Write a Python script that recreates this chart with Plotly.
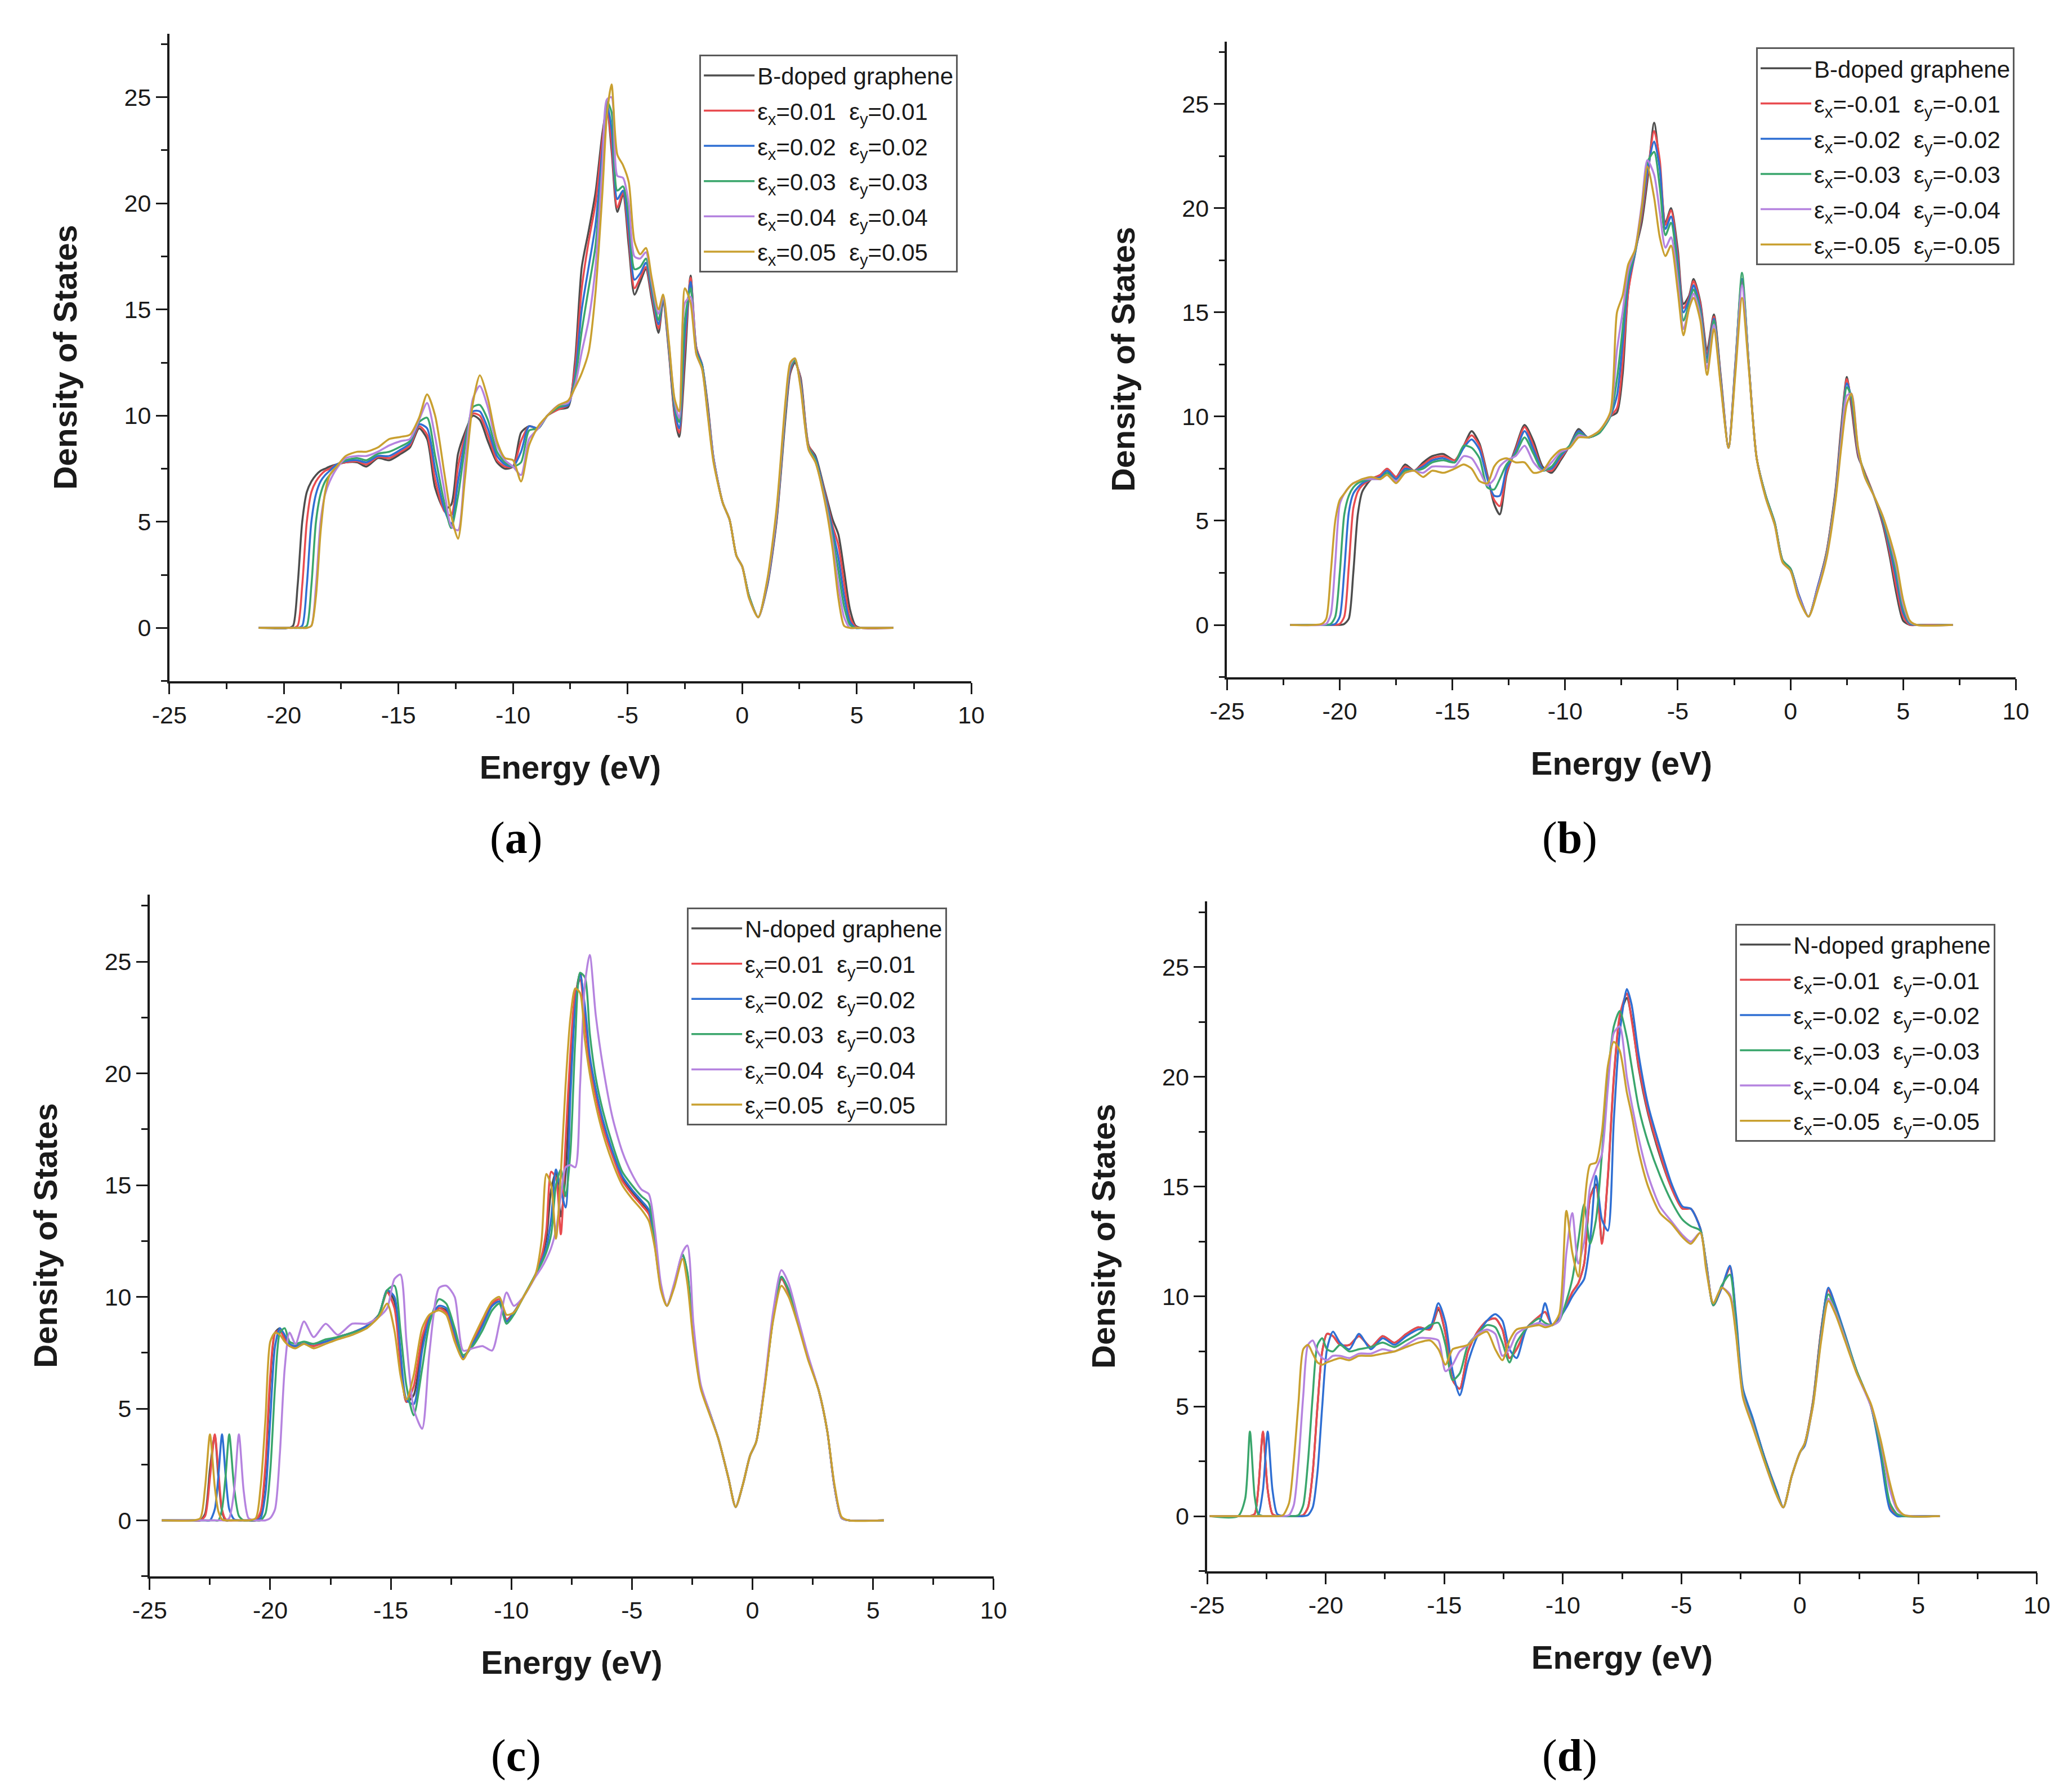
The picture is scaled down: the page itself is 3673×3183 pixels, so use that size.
import plotly.graph_objects as go

# ---------------- data ----------------
# (a) B-doped graphene, tensile strain
e_a = [-21.1, -19.8, -19.6, -19.4, -19.2, -19.0, -18.8, -18.6, -18.4, -18.2, -18.0, -17.7, -17.3, -16.8, -16.4,
       -15.9, -15.4, -14.9, -14.5, -14.1, -13.75, -13.4, -13.0, -12.7, -12.4, -12.1, -11.75, -11.45, -11.1, -10.7,
       -10.35, -10.0, -9.65, -9.3, -8.9, -8.5, -8.0, -7.6, -7.3, -7.0, -6.7, -6.4, -6.1, -5.9, -5.7, -5.45, -5.2,
       -4.95, -4.7, -4.45, -4.2, -3.95, -3.65, -3.45, -3.2, -2.95, -2.75, -2.5, -2.25, -2.0, -1.75, -1.5, -1.25,
       -0.85, -0.55, -0.25, 0.0, 0.3, 0.7, 1.1, 1.5, 1.9, 2.1, 2.3, 2.55, 2.9, 3.2, 3.6, 3.95, 4.2, 4.45, 4.7,
       4.95, 5.2, 6.6]
a_pristine = [0, 0, 0.1, 2.0, 5.0, 6.4, 6.9, 7.2, 7.4, 7.5, 7.6, 7.7, 7.8, 7.8, 7.6, 8.0, 7.9, 8.2, 8.5, 9.4,
              8.9, 6.6, 5.6, 5.8, 8.2, 9.2, 10.0, 9.8, 8.8, 7.8, 7.5, 7.6, 9.2, 9.5, 9.4, 10.0, 10.3, 10.4, 12.5,
              17.0, 18.7, 20.5, 23.3, 24.5, 22.5, 19.6, 20.4, 18.0, 15.7, 16.3, 16.9, 15.5, 13.9, 15.4, 13.0, 10.0,
              9.0, 12.5, 16.6, 13.2, 12.4, 10.5, 8.0, 5.9, 5.1, 3.4, 2.9, 1.5, 0.5, 2.0, 5.0, 10.0, 12.0, 12.5,
              11.8, 8.6, 8.1, 6.5, 5.1, 4.4, 2.7, 0.9, 0.1, 0, 0]
a_001 = [0, 0, 0, 0.1, 2.0, 5.0, 6.4, 6.9, 7.2, 7.4, 7.5, 7.7, 7.8, 7.85, 7.7, 8.05, 8.0, 8.3, 8.6, 9.5, 9.1,
         7.0, 5.5, 5.3, 7.6, 9.0, 10.1, 10.0, 9.1, 7.9, 7.6, 7.6, 8.8, 9.5, 9.4, 10.0, 10.3, 10.5, 12.2, 16.0,
         18.2, 20.0, 23.0, 24.6, 22.8, 19.8, 20.5, 18.4, 16.0, 16.5, 17.0, 15.7, 14.1, 15.5, 13.1, 10.1, 9.2,
         13.2, 16.5, 13.2, 12.4, 10.4, 8.0, 5.9, 5.1, 3.4, 2.9, 1.5, 0.5, 2.1, 5.1, 10.2, 12.1, 12.6, 11.7, 8.6,
         8.0, 6.4, 4.8, 3.9, 2.1, 0.5, 0.05, 0, 0]
a_002 = [0, 0, 0, 0, 0.1, 2.0, 5.0, 6.3, 6.9, 7.2, 7.4, 7.7, 7.85, 7.9, 7.8, 8.1, 8.1, 8.4, 8.7, 9.6, 9.4, 7.5,
         5.6, 4.9, 6.9, 8.8, 10.2, 10.2, 9.4, 8.1, 7.7, 7.6, 8.3, 9.5, 9.4, 10.0, 10.4, 10.5, 11.8, 15.0, 17.0,
         19.0, 22.5, 24.7, 23.5, 20.2, 20.6, 18.8, 16.4, 16.7, 17.2, 15.9, 14.3, 15.5, 13.2, 10.3, 9.4, 13.8,
         16.3, 13.1, 12.4, 10.3, 8.0, 5.9, 5.1, 3.4, 2.9, 1.5, 0.5, 2.1, 5.2, 10.3, 12.2, 12.6, 11.6, 8.5, 8.0,
         6.3, 4.6, 3.3, 1.5, 0.3, 0, 0, 0]
a_003 = [0, 0, 0, 0, 0, 0.1, 2.0, 5.0, 6.3, 6.9, 7.2, 7.6, 7.9, 8.0, 7.9, 8.2, 8.3, 8.55, 8.8, 9.7, 9.9, 8.1,
         5.9, 4.7, 6.2, 8.5, 10.4, 10.5, 9.8, 8.3, 7.8, 7.6, 7.8, 9.3, 9.4, 10.0, 10.4, 10.6, 11.6, 14.0, 16.0,
         18.0, 22.0, 24.8, 24.3, 20.6, 20.8, 19.4, 16.9, 17.0, 17.4, 16.1, 14.5, 15.6, 13.3, 10.5, 9.7, 14.5,
         16.0, 13.0, 12.3, 10.2, 7.9, 5.9, 5.1, 3.4, 2.9, 1.5, 0.5, 2.2, 5.3, 10.4, 12.3, 12.6, 11.5, 8.5, 7.9,
         6.2, 4.3, 2.7, 1.0, 0.15, 0, 0, 0]
a_004 = [0, 0, 0, 0, 0, 0, 0.1, 2.0, 5.0, 6.3, 6.9, 7.5, 8.0, 8.1, 8.1, 8.3, 8.6, 8.8, 8.9, 9.8, 10.6, 9.0,
         6.5, 4.8, 4.6, 7.7, 10.8, 11.4, 10.4, 8.6, 7.9, 7.6, 7.2, 8.9, 9.4, 10.0, 10.5, 10.6, 11.4, 13.0, 14.5,
         17.0, 21.8, 24.9, 25.0, 21.3, 21.2, 20.0, 17.5, 17.4, 17.7, 16.3, 14.8, 15.6, 13.4, 10.7, 9.9, 15.3,
         15.6, 12.9, 12.2, 10.1, 7.9, 5.9, 5.1, 3.4, 2.9, 1.4, 0.5, 2.2, 5.4, 10.6, 12.4, 12.7, 11.4, 8.4, 7.8,
         6.1, 4.0, 2.0, 0.5, 0, 0, 0, 0]
a_005 = [0, 0, 0, 0, 0, 0, 0.1, 1.5, 4.5, 6.4, 7.2, 7.6, 8.1, 8.3, 8.3, 8.5, 8.9, 9.0, 9.1, 9.9, 11.0, 10.0,
         7.3, 5.3, 4.2, 7.0, 10.6, 11.9, 10.8, 8.8, 8.0, 7.9, 6.9, 8.6, 9.5, 10.0, 10.5, 10.7, 11.3, 12.0, 13.0,
         15.8, 20.5, 24.2, 25.6, 22.3, 21.8, 21.0, 18.2, 17.6, 17.9, 16.5, 15.0, 15.7, 13.5, 10.8, 10.2, 16.0,
         15.3, 12.9, 12.2, 10.0, 7.8, 5.9, 5.1, 3.4, 2.9, 1.4, 0.5, 2.3, 5.6, 10.8, 12.5, 12.7, 11.3, 8.4, 7.8,
         6.0, 3.7, 1.4, 0.1, 0, 0, 0, 0]

# (b) B-doped graphene, compressive strain
e_b = [-22.2, -20.8, -20.6, -20.4, -20.2, -20.0, -19.8, -19.6, -19.4, -19.2, -19.0, -18.6, -18.2, -17.9, -17.5,
       -17.1, -16.7, -16.3, -15.9, -15.4, -14.9, -14.5, -14.15, -13.8, -13.45, -13.15, -12.9, -12.6, -12.2,
       -11.8, -11.4, -11.0, -10.6, -10.2, -9.8, -9.4, -9.0, -8.5, -8.0, -7.7, -7.45, -7.2, -6.9, -6.6, -6.35,
       -6.05, -5.8, -5.55, -5.3, -5.0, -4.75, -4.5, -4.3, -4.0, -3.7, -3.4, -3.1, -2.75, -2.45, -2.15, -1.85,
       -1.5, -1.1, -0.7, -0.35, 0.0, 0.35, 0.8, 1.2, 1.6, 2.0, 2.25, 2.5, 2.7, 3.0, 3.3, 3.7, 4.1, 4.4, 4.7,
       5.0, 5.3, 5.6, 7.2]
b_pristine = [0, 0, 0, 0, 0, 0, 0.05, 0.3, 2.5, 5.3, 6.4, 7.0, 7.2, 7.5, 7.1, 7.7, 7.4, 7.8, 8.1, 8.2, 7.9,
              8.6, 9.3, 8.7, 7.2, 5.8, 5.3, 7.2, 8.5, 9.6, 8.8, 7.6, 7.3, 7.9, 8.6, 9.4, 9.0, 9.2, 10.0, 10.2,
              12.0, 16.0, 17.9, 19.3, 21.3, 24.1, 22.0, 19.3, 20.0, 18.0, 15.4, 15.8, 16.6, 15.5, 13.2, 14.9,
              12.0, 8.5, 12.5, 16.6, 12.5, 8.0, 6.2, 4.9, 3.1, 2.7, 1.5, 0.4, 1.8, 3.5, 6.5, 9.5, 11.9, 10.5,
              8.1, 7.3, 6.2, 4.8, 3.3, 1.5, 0.2, 0, 0, 0]
b_001 = [0, 0, 0, 0, 0, 0.05, 0.4, 2.8, 5.6, 6.4, 6.7, 7.0, 7.2, 7.5, 7.1, 7.6, 7.4, 7.7, 8.0, 8.1, 7.9, 8.6,
         9.1, 8.6, 7.1, 6.0, 5.7, 7.3, 8.4, 9.5, 8.6, 7.5, 7.4, 8.0, 8.6, 9.3, 9.0, 9.2, 10.0, 10.4, 12.6, 16.0,
         17.8, 19.6, 21.6, 23.7, 22.3, 19.2, 19.9, 17.7, 15.2, 15.7, 16.5, 15.4, 13.0, 14.8, 11.9, 8.5, 12.4,
         16.5, 12.5, 8.0, 6.2, 4.9, 3.1, 2.7, 1.5, 0.4, 1.8, 3.5, 6.4, 9.3, 11.8, 10.7, 8.2, 7.3, 6.2, 4.9, 3.5,
         1.8, 0.4, 0, 0, 0]
b_002 = [0, 0, 0, 0, 0.05, 0.4, 2.6, 5.4, 6.3, 6.6, 6.8, 7.0, 7.1, 7.4, 7.0, 7.5, 7.4, 7.6, 7.9, 8.0, 7.8,
         8.5, 8.9, 8.4, 7.0, 6.2, 6.2, 7.5, 8.3, 9.3, 8.4, 7.5, 7.5, 8.1, 8.6, 9.3, 9.0, 9.2, 10.0, 11.0, 13.5,
         16.4, 17.8, 19.8, 21.8, 23.2, 21.9, 19.0, 19.6, 17.4, 15.0, 15.6, 16.3, 15.2, 12.8, 14.7, 11.8, 8.5,
         12.4, 16.6, 12.5, 8.0, 6.2, 4.9, 3.1, 2.7, 1.5, 0.4, 1.8, 3.4, 6.3, 9.1, 11.6, 10.9, 8.3, 7.2, 6.2,
         5.0, 3.7, 2.2, 0.6, 0.05, 0, 0]
b_003 = [0, 0, 0, 0.05, 0.4, 2.5, 5.3, 6.2, 6.6, 6.8, 6.9, 7.0, 7.0, 7.3, 6.9, 7.4, 7.4, 7.5, 7.8, 7.9, 7.8,
         8.6, 8.5, 8.0, 6.6, 6.5, 7.0, 7.7, 8.2, 9.0, 8.2, 7.4, 7.6, 8.2, 8.6, 9.2, 9.0, 9.2, 10.0, 11.8, 14.2,
         16.7, 17.9, 20.0, 22.2, 22.7, 21.0, 18.7, 19.3, 17.0, 14.6, 15.4, 16.1, 15.0, 12.6, 14.6, 11.7, 8.5,
         12.3, 16.9, 12.5, 8.0, 6.2, 4.9, 3.1, 2.7, 1.4, 0.4, 1.7, 3.4, 6.2, 9.0, 11.4, 11.0, 8.4, 7.2, 6.2,
         5.1, 3.9, 2.5, 0.8, 0.1, 0, 0]
b_004 = [0, 0, 0.05, 0.5, 3.0, 5.8, 6.3, 6.6, 6.8, 6.9, 7.0, 7.0, 7.0, 7.2, 6.9, 7.3, 7.4, 7.3, 7.6, 7.6,
         7.6, 8.1, 8.0, 7.4, 6.7, 7.0, 7.6, 7.9, 8.1, 8.6, 7.8, 7.4, 7.8, 8.3, 8.5, 9.1, 9.0, 9.3, 10.1, 13.2,
         15.0, 17.0, 18.0, 20.2, 22.3, 21.6, 19.8, 18.1, 18.6, 16.5, 14.2, 15.2, 15.9, 14.8, 12.3, 14.4, 11.6,
         8.5, 12.2, 16.3, 12.4, 8.0, 6.1, 4.8, 3.0, 2.6, 1.4, 0.4, 1.7, 3.3, 6.1, 8.8, 11.0, 11.1, 8.4, 7.1,
         6.2, 5.2, 4.1, 2.8, 1.0, 0.15, 0, 0]
b_005 = [0, 0.05, 0.3, 2.5, 5.0, 6.0, 6.3, 6.6, 6.8, 6.9, 7.0, 7.1, 7.0, 7.2, 6.8, 7.3, 7.4, 7.1, 7.4, 7.3,
         7.5, 7.7, 7.5, 6.9, 6.8, 7.6, 7.9, 8.0, 7.8, 7.8, 7.3, 7.4, 8.0, 8.4, 8.5, 9.0, 9.0, 9.3, 10.2, 15.0,
         15.8, 17.3, 18.0, 20.0, 22.0, 20.5, 18.6, 17.7, 18.2, 16.0, 13.9, 15.2, 15.7, 14.6, 12.0, 14.2, 11.5,
         8.5, 12.0, 15.7, 12.3, 8.0, 6.1, 4.8, 3.0, 2.6, 1.3, 0.4, 1.6, 3.2, 6.0, 8.5, 10.6, 11.1, 8.5, 7.1,
         6.2, 5.2, 4.2, 3.0, 1.2, 0.2, 0, 0]

# (c) N-doped graphene, tensile strain
e_c = [-24.5, -23.2, -22.9, -22.7, -22.5, -22.3, -22.15, -22.0, -21.85, -21.7, -21.5, -21.3, -21.1, -20.9,
       -20.6, -20.4, -20.2, -20.0, -19.8, -19.6, -19.4, -19.2, -18.95, -18.6, -18.2, -17.7, -17.2, -16.6,
       -16.0, -15.5, -15.15, -14.85, -14.6, -14.35, -14.05, -13.7, -13.4, -13.0, -12.7, -12.35, -12.0, -11.6,
       -11.2, -10.8, -10.5, -10.2, -9.9, -9.5, -9.0, -8.75, -8.55, -8.35, -8.15, -7.95, -7.75, -7.55, -7.35,
       -7.15, -6.95, -6.75, -6.5, -6.2, -5.8, -5.4, -5.0, -4.6, -4.3, -4.05, -3.8, -3.55, -3.25, -2.9, -2.7,
       -2.45, -2.15, -1.8, -1.4, -1.0, -0.7, -0.4, -0.1, 0.15, 0.5, 0.85, 1.2, 1.5, 1.9, 2.3, 2.75, 3.1, 3.4,
       3.7, 4.0, 5.45]
c_pristine = [0, 0, 0, 0.3, 2.3, 3.8, 1.9, 0.4, 0, 0, 0, 0, 0, 0, 0, 0.3, 2.2, 6.2, 8.4, 8.6, 8.2, 7.8, 7.8,
              7.9, 7.8, 8.0, 8.2, 8.4, 8.7, 9.2, 10.3, 9.8, 7.3, 5.3, 5.6, 7.9, 9.0, 9.5, 9.4, 8.3, 7.3, 7.9,
              8.8, 9.6, 9.8, 8.9, 9.3, 10.0, 11.0, 11.7, 12.6, 14.8, 15.6, 13.6, 15.5, 20.0, 23.3, 24.5, 22.7,
              20.6, 19.2, 17.8, 16.4, 15.3, 14.7, 14.2, 13.8, 12.3, 10.4, 9.6, 10.5, 11.9, 11.0, 8.2, 6.0, 4.9,
              3.6, 1.9, 0.6, 1.6, 2.9, 3.5, 6.0, 9.0, 10.8, 10.2, 8.8, 7.3, 5.8, 4.0, 1.5, 0.1, 0, 0]
c_001 = [0, 0, 0, 0.2, 1.9, 3.85, 2.2, 0.5, 0.05, 0, 0, 0, 0, 0, 0, 0.4, 2.5, 6.5, 8.4, 8.5, 8.1, 7.8, 7.8,
         7.9, 7.8, 8.0, 8.2, 8.4, 8.7, 9.2, 10.2, 9.5, 7.0, 5.3, 6.0, 8.2, 9.1, 9.5, 9.3, 8.2, 7.3, 8.0, 8.9,
         9.7, 9.9, 9.0, 9.3, 10.0, 11.0, 11.8, 13.0, 15.6, 15.3, 12.8, 17.0, 21.0, 23.6, 24.2, 22.3, 20.4,
         19.0, 17.6, 16.3, 15.2, 14.6, 14.1, 13.7, 12.3, 10.4, 9.6, 10.5, 11.9, 11.0, 8.2, 6.0, 4.9, 3.6, 1.9,
         0.6, 1.6, 2.9, 3.5, 6.0, 9.0, 10.8, 10.2, 8.8, 7.3, 5.8, 4.0, 1.5, 0.1, 0, 0]
c_002 = [0, 0, 0, 0, 0, 0.5, 2.0, 3.85, 2.0, 0.5, 0.05, 0, 0, 0, 0, 0.1, 1.2, 4.5, 7.8, 8.6, 8.3, 7.9, 7.8,
         7.9, 7.9, 8.0, 8.2, 8.4, 8.7, 9.2, 10.3, 10.0, 7.6, 5.4, 5.2, 7.6, 9.0, 9.6, 9.5, 8.4, 7.3, 7.9, 8.7,
         9.6, 9.8, 8.9, 9.3, 10.0, 11.0, 11.6, 12.2, 13.5, 15.7, 14.8, 14.0, 19.0, 23.0, 24.4, 23.0, 20.8,
         19.3, 17.9, 16.5, 15.4, 14.8, 14.3, 13.9, 12.4, 10.4, 9.6, 10.5, 11.9, 11.0, 8.2, 6.0, 4.9, 3.6, 1.9,
         0.6, 1.6, 2.9, 3.5, 6.0, 9.0, 10.9, 10.3, 8.8, 7.3, 5.8, 4.0, 1.5, 0.1, 0, 0]
c_003 = [0, 0, 0, 0, 0, 0, 0, 0.5, 2.0, 3.85, 1.5, 0.2, 0, 0, 0, 0, 0.3, 2.2, 6.0, 8.4, 8.6, 8.0, 7.9, 8.0,
         7.9, 8.1, 8.2, 8.4, 8.6, 9.2, 10.3, 10.5, 8.5, 6.0, 4.7, 6.8, 8.8, 9.9, 9.7, 8.6, 7.4, 7.8, 8.5, 9.4,
         9.7, 8.8, 9.2, 10.0, 11.0, 11.5, 12.0, 12.8, 15.0, 15.7, 14.5, 16.5, 21.5, 24.5, 24.3, 21.8, 19.8,
         18.3, 16.8, 15.6, 15.0, 14.5, 14.2, 12.5, 10.4, 9.6, 10.5, 11.9, 11.1, 8.3, 6.0, 4.9, 3.6, 1.9, 0.6,
         1.6, 2.9, 3.5, 6.0, 9.0, 10.9, 10.3, 8.8, 7.3, 5.8, 4.0, 1.5, 0.1, 0, 0]
c_004 = [0, 0, 0, 0, 0, 0, 0, 0, 0, 0.1, 1.3, 3.85, 1.3, 0.1, 0, 0, 0, 0.1, 0.5, 3.0, 6.8, 8.4, 7.9, 8.9,
         8.2, 8.8, 8.3, 8.8, 8.8, 9.1, 9.5, 10.8, 11.0, 8.0, 5.0, 4.1, 7.5, 10.4, 10.5, 10.0, 7.6, 7.7, 7.8,
         7.6, 8.8, 10.2, 9.6, 10.0, 10.9, 11.3, 11.7, 12.2, 13.0, 14.5, 15.8, 15.9, 15.8, 19.5, 24.0, 25.3,
         22.6, 20.3, 18.0, 16.5, 15.5, 14.8, 14.6, 13.0, 10.6, 9.6, 10.6, 12.0, 12.3, 8.8, 6.1, 4.9, 3.6, 1.9,
         0.6, 1.6, 2.9, 3.5, 6.1, 9.3, 11.2, 10.6, 9.0, 7.4, 5.8, 4.0, 1.5, 0.1, 0, 0]
c_005 = [0, 0, 0.1, 1.5, 3.85, 1.5, 0.4, 0.05, 0, 0, 0, 0, 0, 0, 0.1, 1.5, 4.5, 8.0, 8.4, 8.3, 8.0, 7.8, 7.7,
         7.9, 7.7, 7.9, 8.1, 8.3, 8.6, 9.1, 9.7, 8.5, 6.5, 5.4, 6.5, 8.6, 9.2, 9.4, 9.2, 8.0, 7.2, 8.1, 9.0,
         9.8, 10.0, 9.2, 9.3, 10.0, 11.0, 12.5, 15.5, 15.0, 12.6, 15.5, 19.5, 22.5, 23.8, 23.6, 21.5, 20.0,
         18.6, 17.3, 16.0, 15.0, 14.4, 13.9, 13.4, 12.2, 10.3, 9.6, 10.4, 11.7, 10.6, 8.0, 5.9, 4.8, 3.6, 1.9,
         0.6, 1.6, 2.9, 3.5, 5.9, 8.9, 10.5, 10.0, 8.7, 7.2, 5.8, 4.0, 1.6, 0.15, 0, 0]

# (d) N-doped graphene, compressive strain
e_d = [-24.9, -23.7, -23.4, -23.2, -23.0, -22.85, -22.65, -22.45, -22.25, -22.05, -21.8, -21.55, -21.35,
       -21.15, -20.95, -20.75, -20.55, -20.35, -20.15, -19.95, -19.7, -19.4, -19.0, -18.6, -18.1, -17.6, -17.1,
       -16.6, -16.1, -15.6, -15.25, -14.95, -14.65, -14.35, -14.0, -13.6, -13.2, -12.85, -12.55, -12.25,
       -11.95, -11.5, -11.0, -10.75, -10.45, -10.15, -9.85, -9.6, -9.35, -9.1, -8.85, -8.6, -8.35, -8.1, -7.85,
       -7.6, -7.3, -7.1, -6.8, -6.4, -5.9, -5.4, -4.95, -4.6, -4.2, -3.95, -3.65, -3.3, -2.95, -2.7, -2.4,
       -2.0, -1.5, -1.0, -0.7, -0.35, 0.0, 0.2, 0.55, 0.9, 1.2, 1.5, 1.9, 2.4, 3.0, 3.4, 3.8, 4.1, 4.4, 5.9]
d_pristine = [0, 0, 0, 0, 0.1, 1.2, 3.8, 1.2, 0.1, 0, 0, 0, 0, 0, 0.05, 0.4, 2.0, 5.0, 7.5, 8.3, 8.2, 7.8,
              7.8, 8.2, 7.7, 8.2, 7.9, 8.3, 8.6, 8.5, 9.4, 8.3, 6.2, 5.8, 7.5, 8.4, 8.9, 9.0, 8.5, 7.2, 7.6,
              8.6, 9.1, 9.3, 8.7, 9.0, 9.6, 10.2, 10.6, 11.5, 14.5, 15.1, 12.5, 15.4, 19.9, 22.7, 23.6, 22.7,
              20.4, 18.3, 16.4, 14.9, 14.0, 14.0, 13.1, 11.5, 9.6, 10.4, 11.3, 9.0, 5.6, 4.4, 2.7, 1.2, 0.4, 1.8,
              2.9, 3.3, 5.2, 8.5, 10.3, 9.5, 8.2, 6.6, 5.0, 3.0, 0.5, 0.05, 0, 0]
d_001 = [0, 0, 0, 0, 0.1, 1.2, 3.85, 1.2, 0.1, 0, 0, 0, 0, 0, 0.05, 0.4, 2.0, 5.0, 7.5, 8.3, 8.2, 7.8, 7.8,
         8.2, 7.7, 8.2, 7.9, 8.3, 8.6, 8.5, 9.5, 8.3, 6.2, 5.8, 7.5, 8.4, 8.9, 9.0, 8.5, 7.2, 7.6, 8.6, 9.1,
         9.3, 8.7, 9.0, 9.6, 10.2, 10.6, 11.5, 14.5, 15.0, 12.4, 15.5, 20.0, 22.8, 23.8, 22.6, 20.5, 18.4,
         16.5, 14.9, 14.0, 14.0, 13.1, 11.5, 9.6, 10.4, 11.3, 9.0, 5.6, 4.4, 2.7, 1.2, 0.4, 1.8, 2.9, 3.3, 5.2,
         8.5, 10.3, 9.5, 8.2, 6.6, 5.0, 3.0, 0.5, 0.05, 0, 0]
d_002 = [0, 0, 0, 0, 0, 0.05, 1.2, 3.85, 1.2, 0.1, 0, 0, 0, 0, 0, 0.05, 0.4, 2.0, 5.0, 7.6, 8.4, 7.9, 7.6,
         8.3, 7.6, 8.1, 7.8, 8.2, 8.5, 8.6, 9.7, 8.8, 6.6, 5.5, 7.0, 8.2, 8.9, 9.2, 8.9, 7.6, 7.2, 8.6, 8.8,
         9.7, 8.7, 9.0, 9.5, 10.0, 10.4, 10.8, 12.5, 15.5, 13.5, 13.0, 18.0, 22.0, 24.0, 23.3, 21.0, 18.7,
         16.8, 15.1, 14.1, 14.0, 13.1, 11.5, 9.6, 10.4, 11.4, 9.2, 5.8, 4.5, 2.7, 1.2, 0.4, 1.8, 2.9, 3.2, 5.1,
         8.4, 10.4, 9.6, 8.3, 6.6, 5.0, 2.8, 0.3, 0, 0, 0]
d_003 = [0, 0, 0.8, 3.85, 0.9, 0.1, 0, 0, 0, 0, 0, 0, 0, 0.05, 0.5, 2.5, 5.5, 7.8, 8.1, 7.6, 7.5, 7.8, 7.5,
         7.6, 7.7, 7.9, 7.7, 8.0, 8.3, 8.7, 8.8, 7.8, 6.2, 6.5, 7.8, 8.3, 8.7, 8.6, 7.9, 7.0, 7.9, 8.6, 9.0,
         8.8, 8.7, 8.9, 9.8, 10.8, 12.5, 14.2, 12.4, 13.5, 16.5, 20.0, 22.3, 23.0, 21.8, 20.5, 18.6, 17.0,
         15.5, 14.3, 13.5, 13.2, 13.0, 11.4, 9.6, 10.5, 11.0, 8.8, 5.6, 4.3, 2.6, 1.1, 0.4, 1.8, 2.9, 3.3, 5.1,
         8.3, 10.1, 9.4, 8.2, 6.6, 5.0, 3.1, 0.6, 0.1, 0, 0]
d_004 = [0, 0, 0, 0, 0, 0, 0, 0, 0, 0, 0, 0.05, 0.5, 2.5, 5.5, 7.8, 8.0, 7.5, 7.2, 7.1, 7.3, 7.3, 7.2, 7.4,
         7.4, 7.6, 7.5, 7.8, 8.1, 8.1, 8.0, 6.6, 6.9, 7.5, 7.8, 8.3, 8.5, 8.3, 7.3, 7.6, 8.3, 8.6, 8.8, 8.7,
         8.7, 8.9, 12.0, 13.8, 11.5, 12.5, 15.0, 15.8, 16.5, 19.5, 22.0, 22.3, 20.0, 18.8, 17.2, 15.5, 14.1,
         13.4, 12.8, 12.5, 12.9, 11.3, 9.7, 10.4, 10.1, 8.4, 5.5, 4.2, 2.5, 1.0, 0.4, 1.8, 2.9, 3.3, 5.0, 8.1,
         9.9, 9.3, 8.1, 6.5, 5.0, 3.4, 1.2, 0.3, 0.05, 0]
d_005 = [0, 0, 0, 0, 0, 0, 0, 0, 0, 0, 0.05, 0.6, 2.5, 5.2, 7.6, 7.8, 7.4, 7.0, 6.9, 7.0, 7.1, 7.2, 7.1, 7.3,
         7.3, 7.4, 7.5, 7.7, 7.9, 8.0, 7.6, 6.9, 7.6, 7.7, 7.8, 8.2, 8.4, 7.6, 7.1, 8.0, 8.5, 8.6, 8.7, 8.6,
         8.7, 9.2, 13.9, 12.0, 10.9, 14.0, 16.0, 16.1, 17.5, 20.5, 21.6, 21.2, 19.3, 18.3, 16.6, 15.0, 13.8,
         13.3, 12.7, 12.4, 12.9, 11.2, 9.7, 10.4, 10.0, 8.3, 5.4, 4.1, 2.5, 1.0, 0.4, 1.8, 2.9, 3.3, 5.0, 8.0,
         9.8, 9.2, 8.0, 6.5, 5.1, 3.5, 1.5, 0.4, 0.05, 0]

tensile_labels = ["0.01", "0.02", "0.03", "0.04", "0.05"]
compressive_labels = ["-0.01", "-0.02", "-0.03", "-0.04", "-0.05"]
x_ticks = [-25, -20, -15, -10, -5, 0, 5, 10]
y_ticks = [0, 5, 10, 15, 20, 25]

# ---------------- styling ----------------
colors = ["#4d4d4d", "#e94b4f", "#2f6fd3", "#3aa66c", "#b583df", "#c9a030"]
FONT = "Arial, Liberation Sans, sans-serif"
INK = "#1a1a1a"

panels = [
    # grid, series, doped name, strain labels, axis suffix, legend id, domain x, domain y, legend x, legend y
    (e_a, [a_pristine, a_001, a_002, a_003, a_004, a_005], "B-doped graphene", tensile_labels,
     "", "legend", [0.0797, 0.4675], [0.6225, 0.9838], 0.336, 0.972),
    (e_b, [b_pristine, b_001, b_002, b_003, b_004, b_005], "B-doped graphene", compressive_labels,
     "2", "legend2", [0.5912, 0.9726], [0.6247, 0.9794], 0.847, 0.976),
    (e_c, [c_pristine, c_001, c_002, c_003, c_004, c_005], "N-doped graphene", tensile_labels,
     "3", "legend3", [0.0702, 0.4783], [0.1229, 0.5033], 0.330, 0.496),
    (e_d, [d_pristine, d_001, d_002, d_003, d_004, d_005], "N-doped graphene", compressive_labels,
     "4", "legend4", [0.5816, 0.9828], [0.1258, 0.4996], 0.837, 0.487),
]

fig = go.Figure()
layout = {}

for grid, series, doped, strains, sfx, leg, dx, dy, lx, ly in panels:
    names = [doped] + ["ε<sub>x</sub>=%s\u00a0\u00a0ε<sub>y</sub>=%s" % (s, s) for s in strains]
    for k, vals in enumerate(series):
        fig.add_trace(go.Scatter(
            x=grid, y=vals, mode="lines", name=names[k],
            line=dict(color=colors[k], width=3.5, shape="spline", smoothing=0.7),
            xaxis="x" + sfx, yaxis="y" + sfx, legend=leg, legendgroup=leg + str(k),
        ))

    axis_common = dict(
        showline=True, linecolor=INK, linewidth=3.5, mirror=False,
        showgrid=False, zeroline=False, automargin=False,
        ticks="outside", ticklen=20, tickwidth=3, tickcolor=INK,
        tickfont=dict(family=FONT, size=43, color=INK),
    )
    layout["xaxis" + sfx] = dict(
        axis_common, domain=dx, anchor="y" + sfx, range=[-25, 10],
        tickmode="array", tickvals=x_ticks, ticktext=[str(v) for v in x_ticks],
        minor=dict(ticks="outside", ticklen=11, tickwidth=3, tickcolor=INK, dtick=2.5, tick0=0),
        title=dict(text="Energy (eV)", font=dict(family=FONT, size=58, color=INK, weight="bold"),
                   standoff=50),
    )
    layout["yaxis" + sfx] = dict(
        axis_common, domain=dy, anchor="x" + sfx, range=[-2.5, 28],
        tickmode="array", tickvals=y_ticks, ticktext=[str(v) for v in y_ticks],
        minor=dict(ticks="outside", ticklen=11, tickwidth=3, tickcolor=INK, dtick=2.5, tick0=0),
        title=dict(text="Density of States", font=dict(family=FONT, size=58, color=INK, weight="bold"),
                   standoff=66),
    )
    layout[leg] = dict(
        x=lx, y=ly, xanchor="left", yanchor="top",
        bgcolor="white", bordercolor="#5a5a5a", borderwidth=3,
        font=dict(family=FONT, size=42, color=INK),
        itemwidth=90, tracegroupgap=5,
    )

letters = [("a", 0.2474, 0.535), ("b", 0.757, 0.535), ("c", 0.2474, 0.0228), ("d", 0.757, 0.0228)]
annotations = [
    dict(text="(<b>%s</b>)" % t, x=x, y=y, xref="paper", yref="paper", showarrow=False,
         xanchor="center", yanchor="middle",
         font=dict(family="Liberation Serif, DejaVu Serif, serif", size=80, color="black"))
    for t, x, y in letters
]

fig.update_layout(
    width=3673, height=3183,
    margin=dict(l=0, r=0, t=0, b=0),
    paper_bgcolor="white", plot_bgcolor="white",
    annotations=annotations,
    **layout,
)

fig.write_html("out.html")
